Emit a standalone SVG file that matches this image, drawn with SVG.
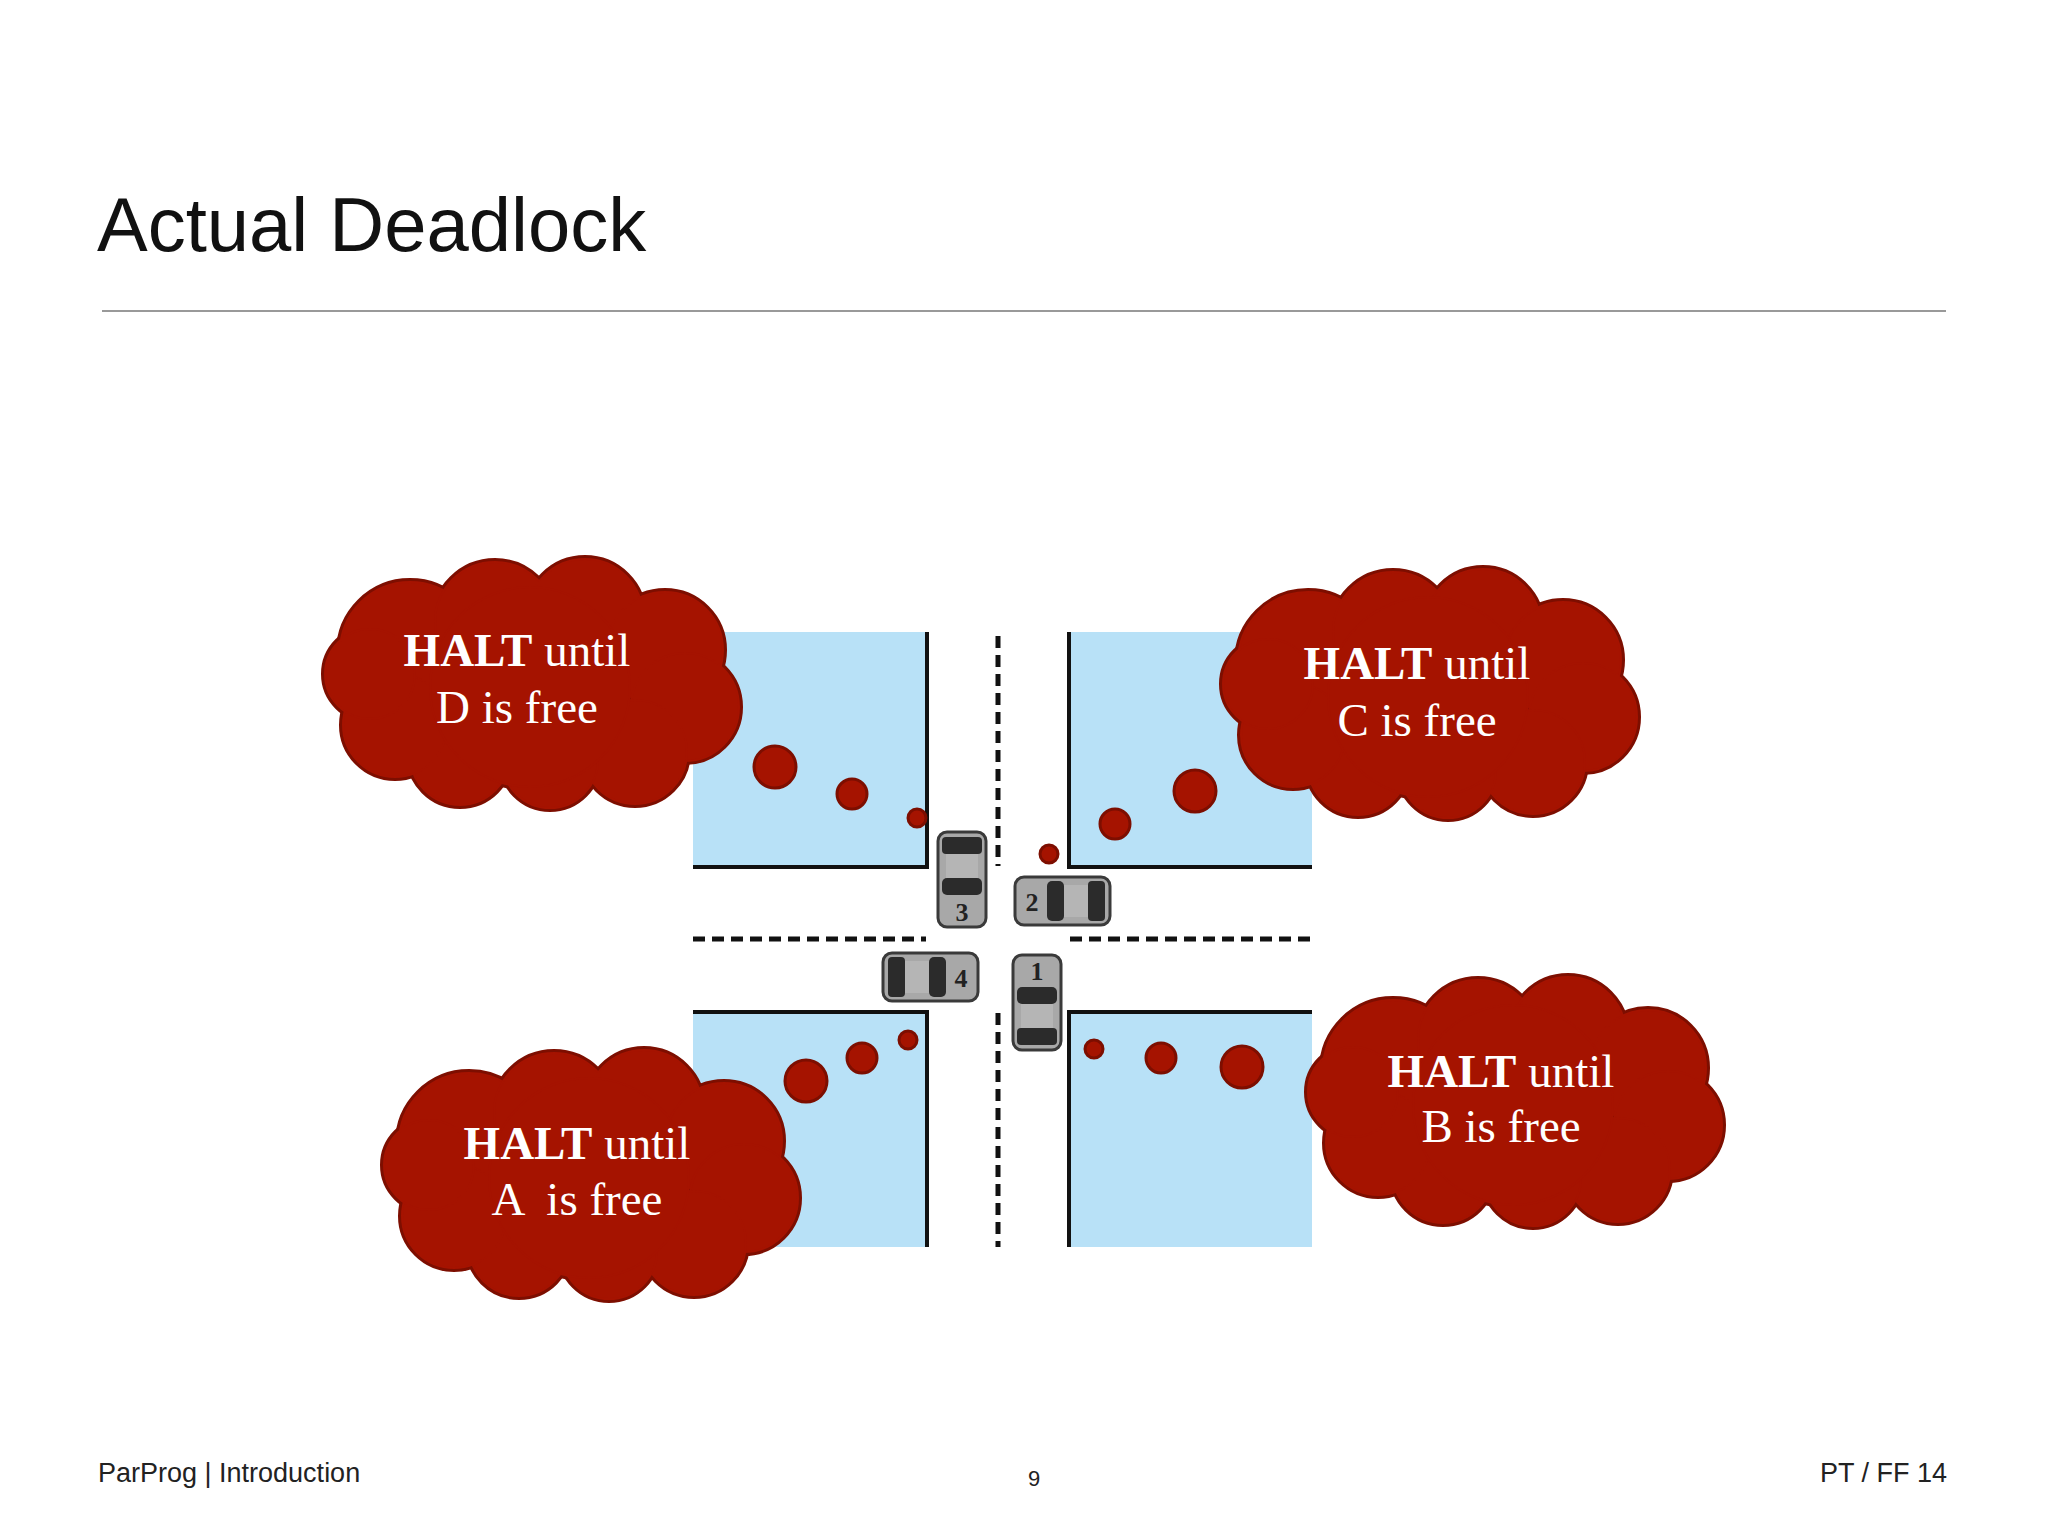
<svg xmlns="http://www.w3.org/2000/svg" xmlns:xlink="http://www.w3.org/1999/xlink" width="2048" height="1536" viewBox="0 0 2048 1536">
<style>
.blk{fill:#b8e1f7}
.edge{stroke:#111;stroke-width:4;fill:none}
.dash{stroke:#111;stroke-width:5;stroke-dasharray:12 7;fill:none}
.dot{fill:#a51300;stroke:#7d0e00;stroke-width:3}
.ct{font-family:"Liberation Serif",serif;font-size:47px;fill:#fff;text-anchor:middle}
.num{font-family:"Liberation Serif",serif;font-size:26px;font-weight:bold;fill:#222;text-anchor:middle}
.foot{font-family:"Liberation Sans",sans-serif;font-size:27px;fill:#222}
</style>
<defs>
<g id="cloudShape">
<circle cx="90" cy="90" r="70"/><circle cx="175" cy="60" r="60"/><circle cx="265" cy="55" r="58"/><circle cx="345" cy="88" r="58"/><circle cx="365" cy="145" r="54"/><circle cx="315" cy="190" r="52"/><circle cx="230" cy="198" r="48"/><circle cx="140" cy="193" r="50"/><circle cx="75" cy="163" r="52"/><circle cx="50" cy="112" r="45"/><circle cx="210" cy="125" r="100"/>
</g>
<g id="cloud">
<use xlink:href="#cloudShape" fill="#7d0e00" stroke="#7d0e00" stroke-width="8"/>
<use xlink:href="#cloudShape" fill="#a51300" stroke="#a51300" stroke-width="2"/>
</g>
<g id="car">
<rect x="0" y="0" width="95" height="48" rx="9" fill="#a8a8a8" stroke="#3a3a3a" stroke-width="3"/>
<rect x="32" y="4" width="17" height="40" rx="5" fill="#2b2b2b"/>
<rect x="49" y="8" width="24" height="32" fill="#b5b5b5"/>
<rect x="73" y="4" width="17" height="40" rx="4" fill="#2b2b2b"/>
</g>
</defs>
<rect width="2048" height="1536" fill="#fff"/>
<text x="97" y="251" font-family="Liberation Sans,sans-serif" font-size="76" fill="#111">Actual Deadlock</text>
<line x1="102" y1="311" x2="1946" y2="311" stroke="#999" stroke-width="2"/>

<g id="intersection">
<rect class="blk" x="693" y="632" width="234" height="235"/>
<polyline class="edge" points="927,632 927,867 693,867"/>
<rect class="blk" x="1069" y="632" width="243" height="235"/>
<polyline class="edge" points="1069,632 1069,867 1312,867"/>
<rect class="blk" x="693" y="1012" width="234" height="235"/>
<polyline class="edge" points="693,1012 927,1012 927,1247"/>
<rect class="blk" x="1069" y="1012" width="243" height="235"/>
<polyline class="edge" points="1312,1012 1069,1012 1069,1247"/>
<line class="dash" x1="998" y1="636" x2="998" y2="866"/>
<line class="dash" x1="998" y1="1013" x2="998" y2="1247"/>
<line class="dash" x1="693" y1="939" x2="926" y2="939"/>
<line class="dash" x1="1070" y1="939" x2="1312" y2="939"/>
</g>

<g id="car2"><use xlink:href="#car" transform="translate(1015,877)"/><text class="num" x="1032" y="911">2</text></g>
<g id="car4"><use xlink:href="#car" transform="translate(978,953) scale(-1,1)"/><text class="num" x="961" y="987">4</text></g>
<g id="car1"><use xlink:href="#car" transform="translate(1061,955) rotate(90)"/><text class="num" x="1037" y="980">1</text></g>
<g id="car3"><use xlink:href="#car" transform="translate(938,927) rotate(-90)"/><text class="num" x="962" y="921">3</text></g>

<g id="dots">
<circle class="dot" cx="775" cy="767" r="21"/><circle class="dot" cx="852" cy="794" r="15"/><circle class="dot" cx="917" cy="818" r="9"/>
<circle class="dot" cx="1049" cy="854" r="9"/><circle class="dot" cx="1115" cy="824" r="15"/><circle class="dot" cx="1195" cy="791" r="21"/>
<circle class="dot" cx="806" cy="1081" r="21"/><circle class="dot" cx="862" cy="1058" r="15"/><circle class="dot" cx="908" cy="1040" r="9"/>
<circle class="dot" cx="1094" cy="1049" r="9"/><circle class="dot" cx="1161" cy="1058" r="15"/><circle class="dot" cx="1242" cy="1067" r="21"/>
</g>

<g id="cloudD"><use xlink:href="#cloud" transform="translate(320,562)"/>
<text class="ct" x="517" y="666"><tspan font-weight="bold">HALT</tspan> until</text>
<text class="ct" x="517" y="723">D is free</text></g>
<g id="cloudC"><use xlink:href="#cloud" transform="translate(1218,572)"/>
<text class="ct" x="1417" y="679"><tspan font-weight="bold">HALT</tspan> until</text>
<text class="ct" x="1417" y="736">C is free</text></g>
<g id="cloudA"><use xlink:href="#cloud" transform="translate(379,1053)"/>
<text class="ct" x="577" y="1159"><tspan font-weight="bold">HALT</tspan> until</text>
<text class="ct" x="577" y="1215" xml:space="preserve">A  is free</text></g>
<g id="cloudB"><use xlink:href="#cloud" transform="translate(1303,980)"/>
<text class="ct" x="1501" y="1087"><tspan font-weight="bold">HALT</tspan> until</text>
<text class="ct" x="1501" y="1142">B is free</text></g>

<text class="foot" x="98" y="1482">ParProg | Introduction</text>
<text x="1034" y="1486" font-family="Liberation Sans,sans-serif" font-size="22" fill="#222" text-anchor="middle">9</text>
<text class="foot" x="1947" y="1482" text-anchor="end">PT / FF 14</text>
</svg>
